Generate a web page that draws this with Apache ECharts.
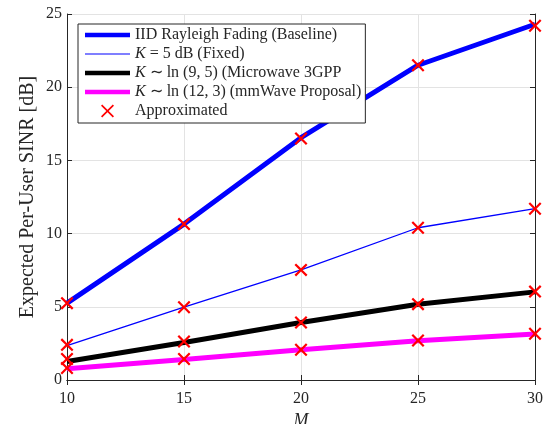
<!DOCTYPE html>
<html><head><meta charset="utf-8">
<script src="https://cdn.jsdelivr.net/npm/echarts@6/dist/echarts.min.js"></script>
<style>html,body{margin:0;padding:0;background:#fff}#c{width:552px;height:424px}</style>
</head><body><div id="c"></div>
<script>
const M = [10, 15, 20, 25, 30];
const iid = [5.25, 10.65, 16.55, 21.5, 24.3];
const k5 = [2.35, 4.97, 7.52, 10.4, 11.7];
const micro = [1.27, 2.56, 3.93, 5.18, 6.02];
const mmw = [0.77, 1.4, 2.07, 2.68, 3.14];
const apxIid = [5.25, 10.65, 16.5, 21.5, 24.2];
const apxK5 = [2.4, 4.97, 7.52, 10.4, 11.7];
const apxMicro = [1.43, 2.63, 3.93, 5.18, 6.04];
const apxMmw = [0.82, 1.43, 2.07, 2.7, 3.16];
const names = ['IID Rayleigh Fading (Baseline)', 'K = 5 dB (Fixed)', 'K ~ ln(9,5) (Microwave 3GPP', 'K ~ ln(12,3) (mmWave Proposal)', 'Approximated'];
const legendText = {
  [names[0]]: 'IID Rayleigh Fading (Baseline)',
  [names[1]]: '{i|K} = 5 dB (Fixed)',
  [names[2]]: '{i|K} ∼ ln (9, 5) (Microwave 3GPP',
  [names[3]]: '{i|K} ∼ ln (12, 3) (mmWave Proposal)',
  [names[4]]: 'Approximated'
};
const FONT = 'Liberation Serif';
const pairs = a => M.map((m, i) => [m, a[i]]);
const apx = [].concat(pairs(apxIid), pairs(apxK5), pairs(apxMicro), pairs(apxMmw));
const X_SHAPE = 'path://M0,1.2 L1.2,0 L5,3.8 L8.8,0 L10,1.2 L6.2,5 L10,8.8 L8.8,10 L5,6.2 L1.2,10 L0,8.8 L3.8,5 Z';
const THICK = 'path://M0,0 M45,16 M0,5.7 H45 V10.3 H0 Z';
const THIN = 'path://M0,0 M45,16 M0,7.4 H45 V8.6 H0 Z';
const XLEG = 'path://M0,0 M45,16 M16,2.7 L17.2,1.5 L22.5,6.8 L27.8,1.5 L29,2.7 L23.7,8 L29,13.3 L27.8,14.5 L22.5,9.2 L17.2,14.5 L16,13.3 L21.3,8 Z';
const axisCommon = { min: 0, max: 25, interval: 5, type: 'value' };
const chart = echarts.init(document.getElementById('c'));
chart.setOption({
  animation: false,
  backgroundColor: '#fff',
  textStyle: { fontFamily: FONT },
  grid: { left: 67, right: 17, top: 14, bottom: 44, containLabel: false, outerBoundsMode: 'none' },
  legend: {
    orient: 'vertical', left: 78, top: 24,
    backgroundColor: '#fff', borderColor: '#262626', borderWidth: 1,
    padding: [3, 4, 4, 7], itemGap: 3, itemWidth: 45, itemHeight: 16,
    data: [
      { name: names[0], icon: THICK },
      { name: names[1], icon: THIN },
      { name: names[2], icon: THICK },
      { name: names[3], icon: THICK },
      { name: names[4], icon: XLEG }
    ],
    formatter: n => legendText[n],
    textStyle: { fontFamily: FONT, fontSize: 16, color: '#262626', rich: { i: { fontStyle: 'italic', fontFamily: FONT, fontSize: 16, color: '#262626' } } }
  },
  xAxis: [{
    type: 'value', min: 10, max: 30, interval: 5, position: 'bottom',
    name: 'M', nameLocation: 'middle', nameGap: 28,
    nameTextStyle: { fontFamily: FONT, fontSize: 18, fontStyle: 'italic', color: '#262626' },
    axisLine: { lineStyle: { color: '#262626', width: 1 } },
    axisTick: { inside: true, length: 5, lineStyle: { color: '#262626' } },
    axisLabel: { fontFamily: FONT, fontSize: 16, color: '#262626', margin: 11 },
    splitLine: { show: true, lineStyle: { color: '#e3e3e3', width: 1 } }
  }, {
    type: 'value', min: 10, max: 30, interval: 5, position: 'top',
    axisLine: { show: true, lineStyle: { color: '#262626', width: 1 } },
    axisTick: { show: true, inside: true, length: 5, lineStyle: { color: '#262626' } },
    axisLabel: { show: false }, splitLine: { show: false }
  }],
  yAxis: [{
    ...axisCommon, position: 'left',
    name: 'Expected Per-User SINR [dB]', nameLocation: 'middle', nameGap: 29, nameMoveOverlap: false,
    nameTextStyle: { fontFamily: FONT, fontSize: 20, color: '#262626' },
    axisLine: { show: true, lineStyle: { color: '#262626', width: 1 } },
    axisTick: { show: true, inside: true, length: 5, lineStyle: { color: '#262626' } },
    axisLabel: { fontFamily: FONT, fontSize: 16, color: '#262626', margin: 5 },
    splitLine: { show: true, lineStyle: { color: '#e3e3e3', width: 1 } }
  }, {
    ...axisCommon, position: 'right',
    axisLine: { show: true, lineStyle: { color: '#262626', width: 1 } },
    axisTick: { show: true, inside: true, length: 5, lineStyle: { color: '#262626' } },
    axisLabel: { show: false }, splitLine: { show: false }
  }],
  series: [
    { name: names[0], type: 'line', data: pairs(iid), symbol: 'none', lineStyle: { color: '#0000ff', width: 5 }, itemStyle: { color: '#0000ff' } },
    { name: names[1], type: 'line', data: pairs(k5), symbol: 'none', lineStyle: { color: '#0000ff', width: 1.3 }, itemStyle: { color: '#0000ff' } },
    { name: names[2], type: 'line', data: pairs(micro), symbol: 'none', lineStyle: { color: '#000000', width: 5 }, itemStyle: { color: '#000000' } },
    { name: names[3], type: 'line', data: pairs(mmw), symbol: 'none', lineStyle: { color: '#ff00ff', width: 5 }, itemStyle: { color: '#ff00ff' } },
    { name: names[4], type: 'scatter', data: apx, symbol: X_SHAPE, symbolSize: 13, itemStyle: { color: '#ff0000', opacity: 1 }, z: 5 }
  ]
});
</script></body></html>
